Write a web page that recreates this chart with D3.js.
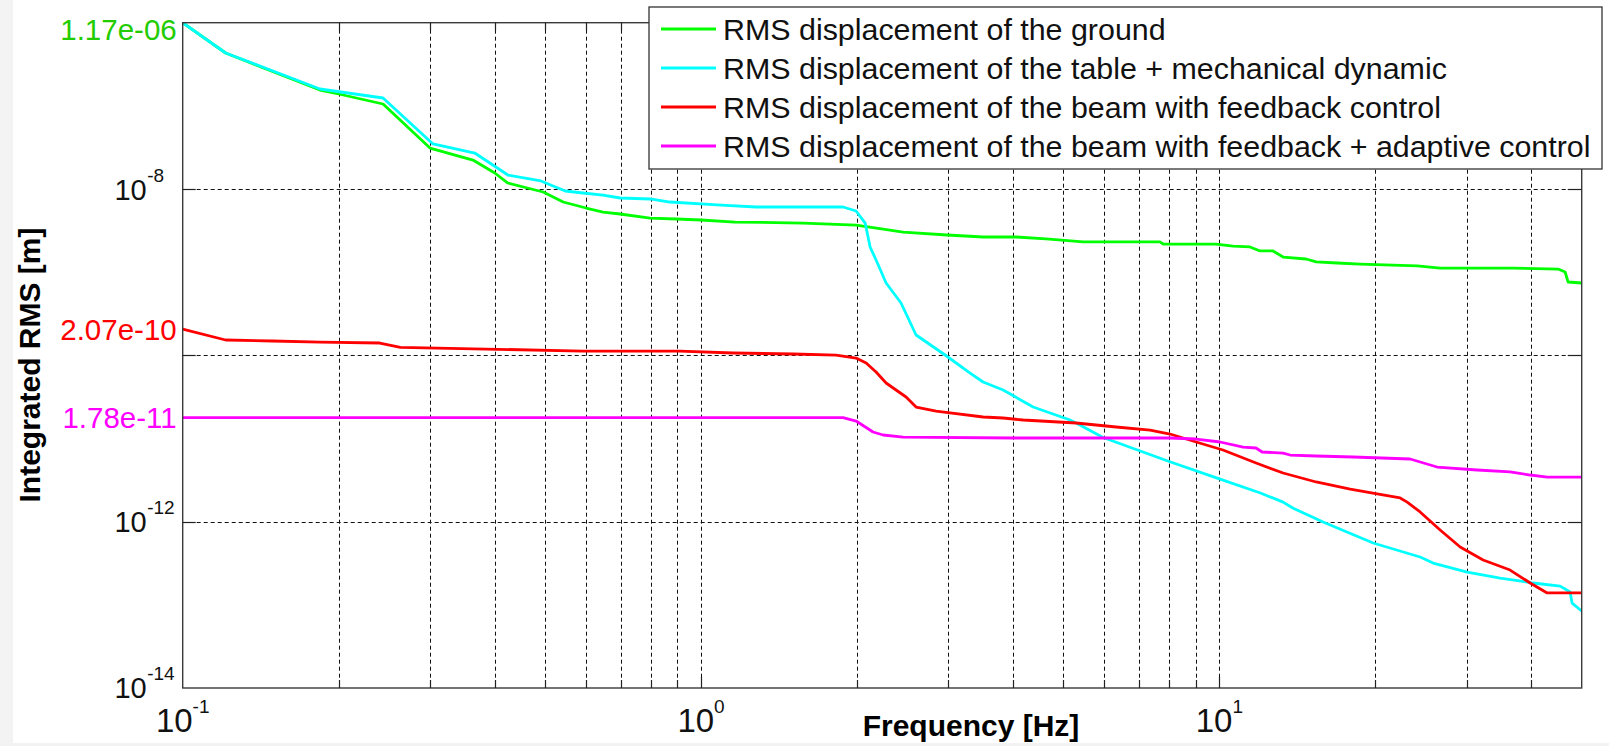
<!DOCTYPE html>
<html>
<head>
<meta charset="utf-8">
<script src="https://d3js.org/d3.v7.min.js"></script>
<style>
  body { margin: 0; background: #fff; }
  svg { display: block; font-family: "Liberation Sans", Arial, sans-serif; }
</style>
</head>
<body>
<script>
// ---------------------------------------------------------------
//  DATA  (frequency [Hz], integrated RMS [m])
// ---------------------------------------------------------------
var groundData = [
  [0.1, 1.0e-6], [0.121, 4.32e-7], [0.184, 1.55e-7], [0.2, 1.389e-7], [0.2435, 1.053e-7],
  [0.300, 3.11e-8], [0.363, 2.23e-8], [0.400, 1.558e-8], [0.424, 1.181e-8], [0.496, 9.21e-9],
  [0.542, 6.98e-9], [0.600, 5.91e-9], [0.647, 5.29e-9], [0.698, 5.01e-9], [0.797, 4.48e-9],
  [0.895, 4.36e-9], [1.0, 4.24e-9], [1.163, 4.01e-9], [1.573, 3.90e-9], [1.991, 3.69e-9],
  [2.245, 3.30e-9], [2.453, 3.04e-9], [2.983, 2.80e-9], [3.501, 2.65e-9], [4.055, 2.65e-9],
  [4.63, 2.51e-9], [5.458, 2.31e-9], [7.68, 2.31e-9], [7.79, 2.18e-9], [9.85, 2.18e-9],
  [10.63, 2.06e-9], [11.46, 2.01e-9], [11.98, 1.80e-9], [12.69, 1.80e-9], [13.27, 1.52e-9],
  [14.70, 1.44e-9], [15.37, 1.33e-9], [16.87, 1.29e-9], [18.69, 1.25e-9], [24.07, 1.19e-9],
  [26.66, 1.12e-9], [36.87, 1.12e-9], [45.03, 1.09e-9], [46.45, 1.005e-9], [47.07, 7.62e-10],
  [50, 7.41e-10]
];

var tableData = [
  [0.1, 1.0e-6], [0.121, 4.32e-7], [0.184, 1.595e-7], [0.2435, 1.243e-7], [0.304, 3.48e-8],
  [0.366, 2.71e-8], [0.424, 1.474e-8], [0.491, 1.249e-8], [0.547, 9.47e-9], [0.592, 8.96e-9],
  [0.647, 8.47e-9], [0.698, 7.80e-9], [0.797, 7.59e-9], [0.871, 6.98e-9], [1.093, 6.42e-9],
  [1.277, 6.08e-9], [1.879, 6.08e-9], [1.991, 5.44e-9], [2.073, 3.90e-9], [2.119, 2.01e-9],
  [2.176, 1.40e-9], [2.275, 7.41e-10], [2.431, 4.26e-10], [2.599, 1.757e-10], [2.957, 1.009e-10],
  [3.304, 6.13e-11], [3.501, 4.78e-11], [3.826, 3.83e-11], [3.982, 3.33e-11], [4.372, 2.39e-11],
  [5.151, 1.669e-11], [5.291, 1.536e-11], [5.965, 1.03e-11], [8.0, 5.3e-12], [10.03, 3.25e-12],
  [12.0, 2.21e-12], [13.27, 1.72e-12], [13.88, 1.45e-12], [15.85, 9.91e-13], [19.80, 5.54e-13],
  [24.39, 3.76e-13], [25.84, 3.18e-13], [30.06, 2.48e-13], [34.80, 2.10e-13], [40.30, 1.83e-13],
  [45.44, 1.68e-13], [47.49, 1.43e-13], [47.91, 1.05e-13], [50, 8.43e-14]
];

var feedbackData = [
  [0.1, 2.07e-10], [0.121, 1.53e-10], [0.149, 1.487e-10], [0.184, 1.446e-10], [0.240, 1.407e-10],
  [0.263, 1.25e-10], [0.592, 1.127e-10], [0.911, 1.127e-10], [1.153, 1.067e-10], [1.505, 1.038e-10],
  [1.822, 1.009e-10], [1.991, 9.29e-11], [2.082, 8.09e-11], [2.176, 6.30e-11], [2.275, 4.65e-11],
  [2.378, 3.83e-11], [2.486, 3.155e-11], [2.599, 2.39e-11], [2.841, 2.14e-11], [3.023, 2.03e-11],
  [3.501, 1.814e-11], [3.826, 1.764e-11], [4.182, 1.669e-11], [5.291, 1.536e-11], [6.32, 1.375e-11],
  [7.35, 1.265e-11], [8.03, 1.133e-11], [9.02, 9.08e-12], [10.16, 7.27e-12], [11.77, 5.07e-12],
  [13.27, 3.85e-12], [15.37, 3.00e-12], [17.88, 2.47e-12], [19.28, 2.27e-12], [22.32, 1.93e-12],
  [23.03, 1.72e-12], [24.39, 1.31e-12], [26.66, 7.94e-13], [29.14, 4.96e-13], [32.27, 3.46e-13],
  [36.38, 2.62e-13], [39.77, 1.83e-13], [42.89, 1.39e-13], [50, 1.39e-13]
];

var adaptiveData = [
  [0.1, 1.78e-11], [1.879, 1.78e-11], [1.991, 1.623e-11], [2.147, 1.197e-11], [2.245, 1.102e-11],
  [2.453, 1.042e-11], [4.0, 1.014e-11], [8.03, 1.014e-11], [9.02, 9.86e-12], [10.03, 9.08e-12],
  [11.11, 7.90e-12], [11.77, 7.69e-12], [12.09, 6.88e-12], [13.27, 6.69e-12], [13.69, 6.33e-12],
  [15.37, 6.16e-12], [18.11, 5.99e-12], [23.33, 5.67e-12], [26.30, 4.54e-12], [31.42, 4.18e-12],
  [36.38, 3.96e-12], [39.77, 3.64e-12], [42.89, 3.44e-12], [50, 3.44e-12]
];

var seriesNames = [
  "RMS displacement of the ground",
  "RMS displacement of the table + mechanical dynamic",
  "RMS displacement of the beam with feedback control",
  "RMS displacement of the beam with feedback + adaptive control"
];
var seriesColors = ["#00ff00", "#00ffff", "#ff0000", "#ff00ff"];

var xDomain = [0.1, 50];
var yDomain = [1e-14, 1e-6];
var xLabelVals = [0.1, 1, 10];
var xLabelExp = ["-1", "0", "1"];
var yLabelVals = [1e-14, 1e-12, 1e-8];
var yLabelExp = ["-14", "-12", "-8"];
var yGridVals = [1e-12, 1e-10, 1e-8];
var markVals = [1.17e-6, 2.07e-10, 1.78e-11];
var markText = ["1.17e-06", "2.07e-10", "1.78e-11"];
var markColors = ["#22cc00", "#ff0000", "#ff00ff"];

// ---------------------------------------------------------------
//  SETUP
// ---------------------------------------------------------------
var W = 1609, H = 746;
var margin = {left: 182.7, right: 27.3, top: 22.7, bottom: 58};
var width = W - margin.left - margin.right,
    height = H - margin.top - margin.bottom;

var svg = d3.select("body").append("svg")
    .attr("width", W)
    .attr("height", H);

// faint window frame seen around the screenshot
svg.append("rect").attr("x", 0).attr("y", 0).attr("width", W).attr("height", H).attr("fill", "#f3f3f3");
svg.append("rect").attr("x", 13).attr("y", 0).attr("width", W - 13).attr("height", 743).attr("fill", "#fff");

var g = svg.append("g")
    .attr("transform", "translate(" + margin.left + "," + margin.top + ")");

var x = d3.scaleLog().domain(xDomain).range([0, width]);
var y = d3.scaleLog().domain(yDomain).range([height, 0]);

// snap a 1px line onto the pixel grid so the dashes stay crisp
function snap(v, off) { return Math.round(v + off) + 0.5 - off; }

g.append("clipPath").attr("id", "plotclip")
  .append("rect").attr("x", 0).attr("y", 0).attr("width", width).attr("height", height);

// grid lines (x: every log tick, y: selected decades)
var xGrid = x.ticks().filter(function(d) { return d > xDomain[0] * 1.001 && d < xDomain[1] * 0.999; });

g.append("g").selectAll("line")
  .data(xGrid)
  .join("line")
    .attr("x1", function(d) { return snap(x(d), margin.left); })
    .attr("x2", function(d) { return snap(x(d), margin.left); })
    .attr("y1", 0)
    .attr("y2", height)
    .attr("stroke", "#111")
    .attr("stroke-width", 1)
    .attr("stroke-dasharray", "4,3");

g.append("g").selectAll("line")
  .data(yGridVals)
  .join("line")
    .attr("x1", 0)
    .attr("x2", width)
    .attr("y1", function(d) { return snap(y(d), margin.top); })
    .attr("y2", function(d) { return snap(y(d), margin.top); })
    .attr("stroke", "#111")
    .attr("stroke-width", 1)
    .attr("stroke-dasharray", "4,3");

// series
var allSeries = [groundData, tableData, feedbackData, adaptiveData];
var line = d3.line()
    .x(function(d) { return x(d[0]); })
    .y(function(d) { return y(d[1]); });

g.append("g").attr("clip-path", "url(#plotclip)")
  .selectAll("path")
  .data(allSeries)
  .join("path")
    .attr("d", line)
    .attr("fill", "none")
    .attr("stroke", function(d, i) { return seriesColors[i]; })
    .attr("stroke-width", 2.8)
    .attr("stroke-linejoin", "round");

// axis box
g.append("rect")
  .attr("x", 0).attr("y", 0)
  .attr("width", width).attr("height", height)
  .attr("fill", "none")
  .attr("stroke", "#3a3a3a")
  .attr("stroke-width", 1.4);

// tick marks, drawn inward on all four sides
var xTicks = g.append("g");
xTicks.selectAll(".tb")
  .data(xGrid)
  .join("line")
    .attr("class", "tb")
    .attr("x1", function(d) { return snap(x(d), margin.left); })
    .attr("x2", function(d) { return snap(x(d), margin.left); })
    .attr("y1", height)
    .attr("y2", function(d) { return height - (xLabelVals.indexOf(d) >= 0 ? 11 : 8); })
    .attr("stroke", "#222").attr("stroke-width", 1.2);
xTicks.selectAll(".tt")
  .data(xGrid)
  .join("line")
    .attr("class", "tt")
    .attr("x1", function(d) { return snap(x(d), margin.left); })
    .attr("x2", function(d) { return snap(x(d), margin.left); })
    .attr("y1", 0)
    .attr("y2", function(d) { return xLabelVals.indexOf(d) >= 0 ? 11 : 8; })
    .attr("stroke", "#222").attr("stroke-width", 1.2);

var yTicks = g.append("g");
yTicks.selectAll(".tl")
  .data(yGridVals)
  .join("line")
    .attr("class", "tl")
    .attr("x1", 0).attr("x2", 13)
    .attr("y1", function(d) { return snap(y(d), margin.top); })
    .attr("y2", function(d) { return snap(y(d), margin.top); })
    .attr("stroke", "#222").attr("stroke-width", 1.2);
yTicks.selectAll(".tr")
  .data(yGridVals)
  .join("line")
    .attr("class", "tr")
    .attr("x1", width - 14).attr("x2", width)
    .attr("y1", function(d) { return snap(y(d), margin.top); })
    .attr("y2", function(d) { return snap(y(d), margin.top); })
    .attr("stroke", "#222").attr("stroke-width", 1.2);

// x tick labels 10^n
g.append("g").selectAll("text")
  .data(xLabelVals)
  .join("text")
    .attr("x", function(d) { return x(d); })
    .attr("y", height + 44)
    .attr("text-anchor", "middle")
    .attr("font-size", "33px")
    .attr("fill", "#111")
    .each(function(d, i) {
      var t = d3.select(this);
      t.append("tspan").text("10");
      t.append("tspan").attr("dy", -19).attr("font-size", "19px").text(xLabelExp[i]);
    });

// y tick labels 10^n
var yl = g.append("g");
yl.selectAll(".base")
  .data(yLabelVals)
  .join("text")
    .attr("class", "base")
    .attr("x", -36)
    .attr("y", function(d) { return y(d) + 10.5; })
    .attr("text-anchor", "end")
    .attr("font-size", "29px")
    .attr("fill", "#111")
    .text("10");
yl.selectAll(".exp")
  .data(yLabelVals)
  .join("text")
    .attr("class", "exp")
    .attr("x", -35.5)
    .attr("y", function(d) { return y(d) - 7.5; })
    .attr("text-anchor", "start")
    .attr("font-size", "19px")
    .attr("fill", "#111")
    .text(function(d, i) { return yLabelExp[i]; });

// coloured start-value labels
g.append("g").selectAll("text")
  .data(markVals)
  .join("text")
    .attr("x", -6)
    .attr("y", function(d) { return Math.max(y(d), 6.5); })
    .attr("dy", "0.36em")
    .attr("text-anchor", "end")
    .attr("font-size", "29.5px")
    .attr("fill", function(d, i) { return markColors[i]; })
    .text(function(d, i) { return markText[i]; });

// axis titles
svg.append("text")
  .attr("x", 971)
  .attr("y", 736)
  .attr("text-anchor", "middle")
  .attr("font-size", "30px")
  .attr("font-weight", "bold")
  .attr("fill", "#000")
  .text("Frequency [Hz]");

svg.append("text")
  .attr("transform", "translate(40,365) rotate(-90)")
  .attr("text-anchor", "middle")
  .attr("font-size", "30px")
  .attr("font-weight", "bold")
  .attr("fill", "#000")
  .text("Integrated RMS [m]");

// legend
var legend = svg.append("g").attr("transform", "translate(649,7)");
legend.append("rect")
  .attr("x", 0).attr("y", 0)
  .attr("width", 953).attr("height", 162)
  .attr("fill", "#fff")
  .attr("stroke", "#333")
  .attr("stroke-width", 1.3);
var rows = legend.selectAll(".row")
  .data(seriesNames)
  .join("g")
    .attr("class", "row")
    .attr("transform", function(d, i) { return "translate(0," + (22 + i * 39) + ")"; });
rows.append("line")
  .attr("x1", 12).attr("x2", 67)
  .attr("stroke", function(d, i) { return seriesColors[i]; })
  .attr("stroke-width", 3);
rows.append("text")
  .attr("x", 74)
  .attr("dy", "0.36em")
  .attr("font-size", "30.4px")
  .attr("fill", "#111")
  .text(function(d) { return d; });
</script>
</body>
</html>
